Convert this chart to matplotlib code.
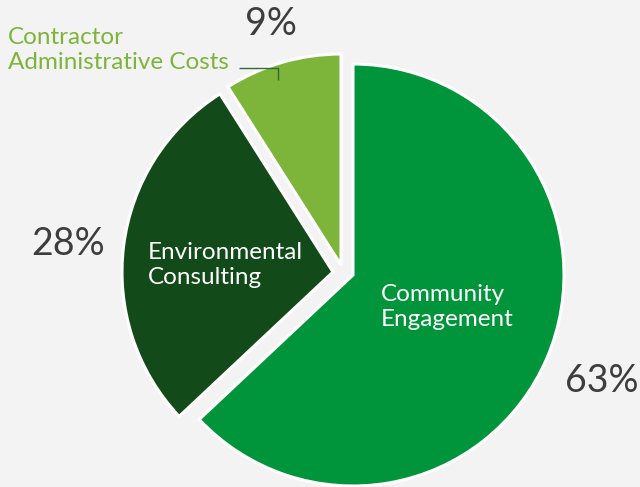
"""Budget split pie: three exploded wedges with inline and outside labels."""
import matplotlib.pyplot as plt

# Data
categories = ["Community\nEngagement", "Environmental\nConsulting",
              "Contractor\nAdministrative Costs"]
shares = [63, 28, 9]
pct_labels = ["63%", "28%", "9%"]

colors = ["#00953a", "#134a1a", "#7db43a"]
BG = "#f3f3f3"

# layout in pixel units (y up), figure is 640x487
CENTER = (353, 212)
RADIUS = 211
offsets = [(0, 0), (-20, 3), (-12, 10)]

fig = plt.figure(figsize=(6.4, 4.87), dpi=100, facecolor=BG)
ax = fig.add_axes([0, 0, 1, 1])
ax.set_facecolor(BG)

wedges, _ = ax.pie(
    shares, colors=colors, startangle=90, counterclock=False,
    center=CENTER, radius=RADIUS, frame=True,
    wedgeprops=dict(edgecolor="white", linewidth=2.2),
)
ax.set_xlim(0, 640)
ax.set_ylim(0, 487)
ax.set_aspect("equal")
ax.axis("off")
for w, (dx, dy) in zip(wedges, offsets):
    w.set_center((CENTER[0] + dx, CENTER[1] + dy))

font = dict(family=["Lato", "DejaVu Sans"], fontweight="normal")

# percentages outside
pct_pos = [(602, 487 - 381), (68, 487 - 244), (271, 487 - 24)]
for txt, (x, y) in zip(pct_labels, pct_pos):
    ax.text(x, y, txt, ha="center", va="center", fontsize=27,
            color="#3d3d3d", **font)

# category labels
ax.text(381, 487 - 307, categories[0], ha="left", va="center", fontsize=17.5,
        color="white", linespacing=1.2, **font)
ax.text(148, 487 - 265, categories[1], ha="left", va="center", fontsize=17.5,
        color="white", linespacing=1.2, **font)
ax.text(8, 487 - 50, categories[2], ha="left", va="center", fontsize=17.5,
        color="#7db43a", linespacing=1.2, **font)

# leader line for the small slice
ax.plot([239, 278, 278], [487 - 68, 487 - 68, 487 - 80], color="#2f6b35",
        lw=1.0, solid_capstyle="butt")

fig.savefig("out.png", dpi=100, facecolor=BG)
